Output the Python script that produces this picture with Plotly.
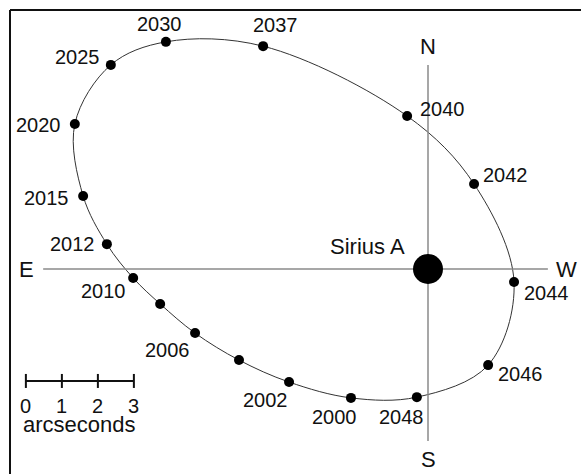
import plotly.graph_objects as go

# ── Data (arcseconds, Sirius A at origin, x to the right = west) ──────────────
years = [2000, 2002, 2004, 2006, 2008, 2010, 2012, 2015, 2020, 2025,
         2030, 2037, 2040, 2042, 2044, 2046, 2048]
pos_x = [-2.14, -3.86, -5.25, -6.47, -7.44, -8.19, -8.92, -9.58, -9.81, -8.81,
         -7.28, -4.58, -0.58, 1.28, 2.39, 1.67, -0.31]
pos_y = [-3.58, -3.14, -2.53, -1.78, -0.97, -0.25, 0.69, 2.03, 4.03, 5.67,
         6.31, 6.19, 4.25, 2.36, -0.36, -2.67, -3.56]
labelled = [2000, 2002, 2006, 2010, 2012, 2015, 2020, 2025, 2030, 2037,
            2040, 2042, 2044, 2046, 2048]

scale_ticks = [0, 1, 2, 3]
scale_origin = (-11.17, -3.11)

W, H = 581, 474
PX = 36.0            # pixels per arcsecond
CX, CY = 428, 269    # Sirius A in pixels

FONT = dict(family="Liberation Sans, Arial, sans-serif", size=20, color="#111")
FONT_TXT = dict(FONT, size=22)

# label placement: (xanchor, xshift, yshift)
_LBL = {
    2030: ("center", -6, 18), 2037: ("center", 12, 21), 2025: ("right", -9, 8),
    2020: ("right", -12, -1), 2015: ("right", -12, -2), 2012: ("right", -10, 0),
    2010: ("right", -5, -13), 2006: ("right", -3, -17), 2002: ("right", 1, -18),
    2000: ("center", -16, -19), 2048: ("center", -15, -20), 2046: ("left", 8, -9),
    2044: ("left", 8, -11), 2042: ("left", 7, 9), 2040: ("left", 11, 7),
}

fig = go.Figure()

# orbit
fig.add_trace(go.Scatter(
    x=pos_x + pos_x[:1], y=pos_y + pos_y[:1], mode="lines",
    line=dict(color="#333", width=1, shape="spline", smoothing=1.0),
    hoverinfo="skip", showlegend=False,
))
# compass cross
axis_col = "#8a8a8a"
fig.add_trace(go.Scatter(x=[-10.69, 3.33], y=[0, 0], mode="lines",
                         line=dict(color=axis_col, width=1.5), showlegend=False))
fig.add_trace(go.Scatter(x=[0, 0], y=[5.67, -4.78], mode="lines",
                         line=dict(color=axis_col, width=1.5), showlegend=False))
# Sirius B positions
fig.add_trace(go.Scatter(x=pos_x, y=pos_y, mode="markers", text=years,
                         marker=dict(color="black", size=10),
                         showlegend=False))
# Sirius A
fig.add_trace(go.Scatter(x=[0], y=[0], mode="markers",
                         marker=dict(color="black", size=30), showlegend=False))

# scale bar
sx = [scale_origin[0] + t for t in scale_ticks]
fig.add_trace(go.Scatter(x=sx, y=[scale_origin[1]] * len(sx), mode="lines+markers",
                         line=dict(color="#111", width=2),
                         marker=dict(symbol="line-ns", size=10,
                                     line=dict(color="#111", width=2)),
                         showlegend=False))

ann = []
for yr, x, y in zip(years, pos_x, pos_y):
    if yr not in labelled:
        continue
    xa, dx, dy = _LBL[yr]
    ann.append(dict(x=x, y=y, text=str(yr), showarrow=False, xanchor=xa,
                    yanchor="middle", xshift=dx, yshift=dy, font=FONT))
for t, x in zip(scale_ticks, sx):
    ann.append(dict(x=x, y=scale_origin[1], text=str(t), showarrow=False,
                    yshift=-25, font=FONT))
ann.append(dict(x=scale_origin[0] + 1.5, y=scale_origin[1], text="arcseconds",
                showarrow=False, yshift=-44, font=FONT_TXT))
ann.append(dict(x=0, y=0, text="Sirius A", showarrow=False, xanchor="right",
                xshift=-21, yshift=23, font=FONT_TXT))
for txt, x, y in [("N", 0, 6.17), ("S", 0, -5.28), ("E", -11.14, 0), ("W", 3.86, 0)]:
    ann.append(dict(x=x, y=y, text=txt, showarrow=False, font=FONT_TXT))

# frame (top and left edges only visible)
frame = [
    dict(type="line", xref="paper", yref="paper", x0=10 / W, x1=1.0,
         y0=1 - 10 / H, y1=1 - 10 / H, line=dict(color="#111", width=2)),
    dict(type="line", xref="paper", yref="paper", x0=10 / W, x1=10 / W,
         y0=1 - 10 / H, y1=0, line=dict(color="#111", width=2)),
]

fig.update_layout(
    width=W, height=H, margin=dict(l=0, r=0, t=0, b=0),
    paper_bgcolor="white", plot_bgcolor="white",
    xaxis=dict(range=[-CX / PX, (W - CX) / PX], visible=False, fixedrange=True),
    yaxis=dict(range=[(CY - H) / PX, CY / PX], visible=False, fixedrange=True),
    annotations=ann, shapes=frame, showlegend=False,
)

fig.write_html("out.html", config=dict(displayModeBar=False),
               post_script="document.body.style.margin='0';")
